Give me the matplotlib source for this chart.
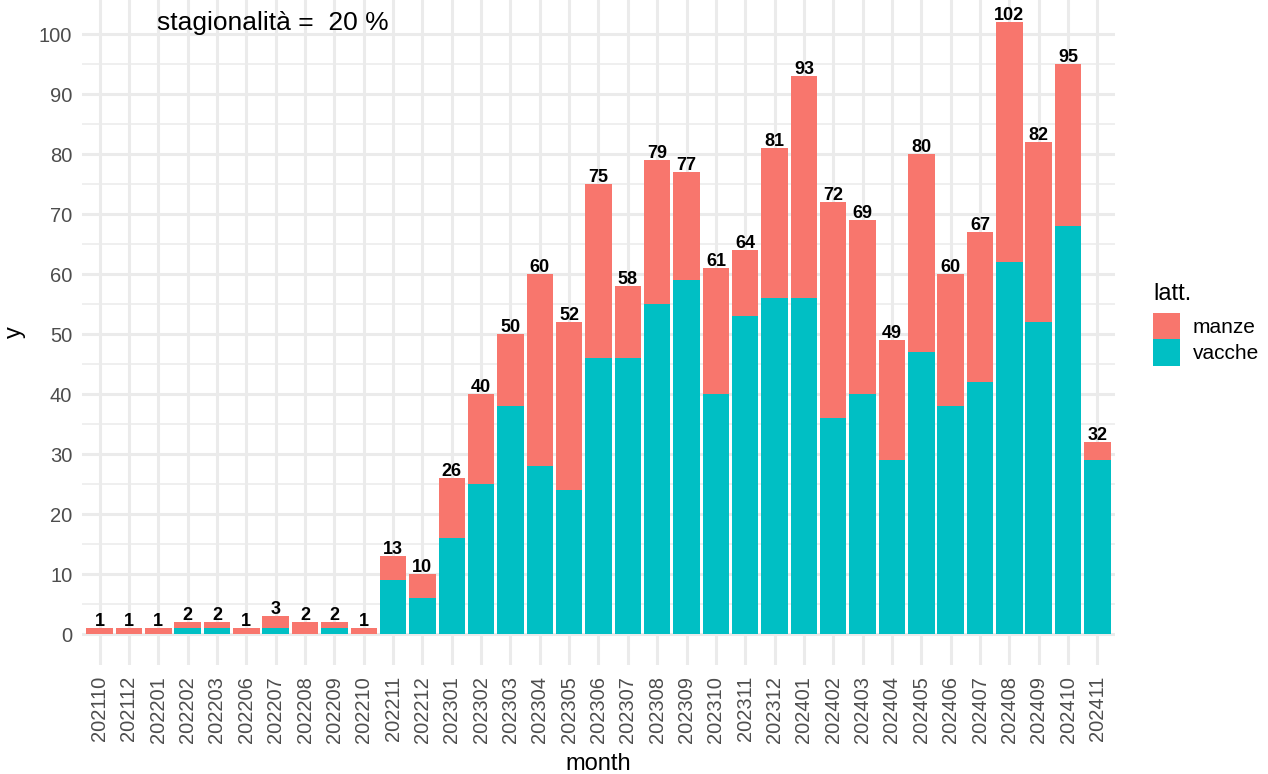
import numpy as np
import matplotlib
matplotlib.use("Agg")
import matplotlib.pyplot as plt
from matplotlib.patches import Patch

# Months and counts per category.
months = ["202110", "202112", "202201", "202202", "202203", "202206", "202207",
          "202208", "202209", "202210", "202211", "202212", "202301", "202302",
          "202303", "202304", "202305", "202306", "202307", "202308", "202309",
          "202310", "202311", "202312", "202401", "202402", "202403", "202404",
          "202405", "202406", "202407", "202408", "202409", "202410", "202411"]
totals = [1, 1, 1, 2, 2, 1, 3, 2, 2, 1, 13, 10, 26, 40, 50, 60, 52, 75, 58,
          79, 77, 61, 64, 81, 93, 72, 69, 49, 80, 60, 67, 102, 82, 95, 32]
vacche = [0, 0, 0, 1, 1, 0, 1, 0, 1, 0, 9, 6, 16, 25, 38, 28, 24, 46, 46,
          55, 59, 40, 53, 56, 56, 36, 40, 29, 47, 38, 42, 62, 52, 68, 29]
manze = [t - v for t, v in zip(totals, vacche)]

season_text = "stagionalità =  20 %"

COL_MANZE = "#F8766D"
COL_VACCHE = "#00BFC4"
GRID = "#EBEBEB"
TXT = "#4D4D4D"

plt.rcParams["font.family"] = ["Liberation Sans", "DejaVu Sans"]

fig = plt.figure(figsize=(12.68, 7.74), dpi=100)
ax = fig.add_axes([82 / 1268, 109 / 774, (1115 - 82) / 1268, 665 / 774])

x = np.arange(len(months))
ax.bar(x, vacche, width=0.9, color=COL_VACCHE, zorder=2)
ax.bar(x, manze, width=0.9, bottom=vacche, color=COL_MANZE, zorder=2)

for xi, t in zip(x, totals):
    ax.text(xi, t - 0.3, str(t), ha="center", va="bottom", fontsize=13,
            fontweight="bold", color="black", zorder=3)

ax.set_xlim(-0.6, len(months) - 0.4)
ax.set_ylim(-5.1, 105.7)
ax.set_xticks(x)
ax.set_xticklabels(months, rotation=90, fontsize=14.5, color=TXT)
ax.set_yticks(np.arange(0, 101, 10))
ax.set_yticks(np.arange(5, 101, 10), minor=True)
ax.tick_params(axis="y", labelsize=14.5, labelcolor=TXT, length=0, pad=7,
               which="both")
ax.tick_params(axis="x", length=0, pad=8)

ax.grid(True, which="major", color=GRID, linewidth=2.2, zorder=0)
ax.grid(True, which="minor", axis="y", color=GRID, linewidth=1.1, zorder=0)
ax.set_axisbelow(True)
for s in ax.spines.values():
    s.set_visible(False)

ax.set_xlabel("month", fontsize=17, color="black", labelpad=7)
ax.set_ylabel("y", fontsize=17, color="black", labelpad=9)

ax.text(1.95, 101.8, season_text, ha="left", va="center", fontsize=19,
        color="black")

handles = [Patch(facecolor=COL_MANZE, label="manze"),
           Patch(facecolor=COL_VACCHE, label="vacche")]
leg = fig.legend(handles=handles, title="latt.", loc="upper left",
                 bbox_to_anchor=(1153 / 1268, 1 - 283 / 774), frameon=False,
                 fontsize=15, title_fontsize=17, handlelength=1.3,
                 handleheight=1.55, handletextpad=0.6, labelspacing=0.0,
                 borderaxespad=0, borderpad=0)
leg._legend_box.align = "left"
leg._legend_box.sep = 6

fig.savefig("out.png", dpi=100)
